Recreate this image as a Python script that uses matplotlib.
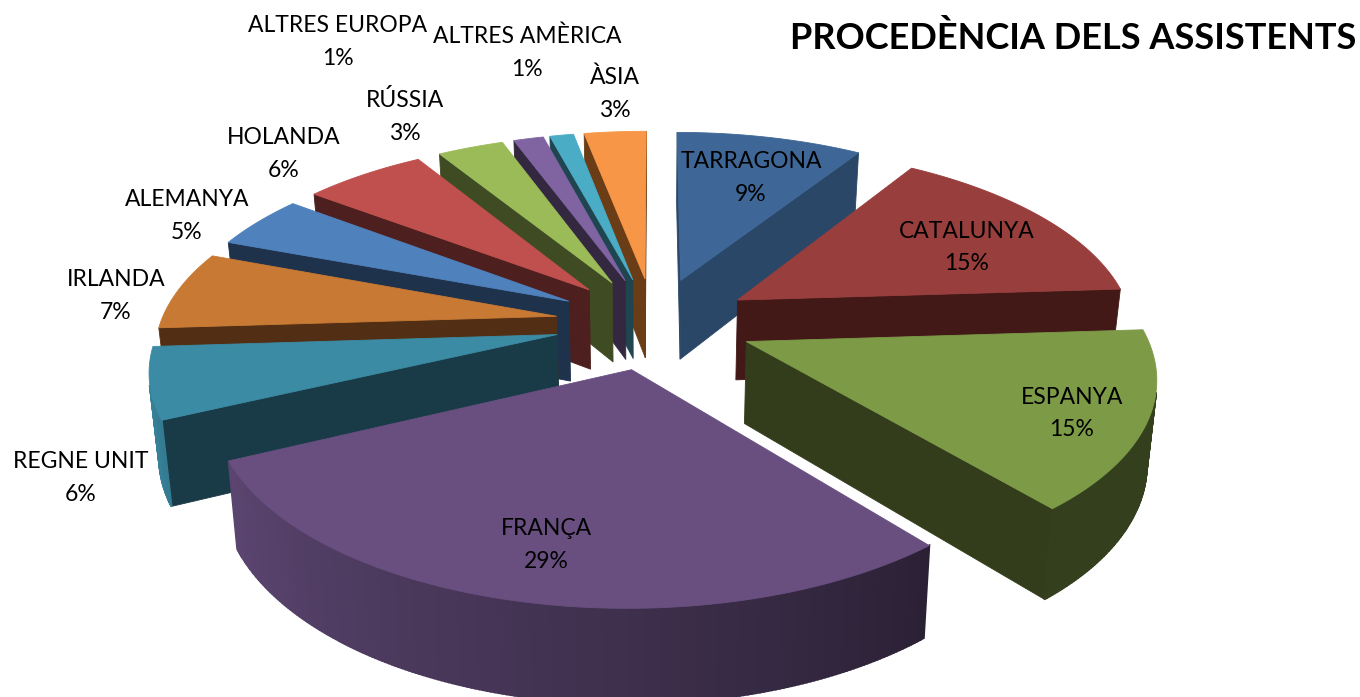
import numpy as np
import matplotlib
matplotlib.use('Agg')
import matplotlib.pyplot as plt

labels = ['TARRAGONA', 'CATALUNYA', 'ESPANYA', 'FRANÇA', 'REGNE UNIT', 'IRLANDA',
          'ALEMANYA', 'HOLANDA', 'RÚSSIA', 'ALTRES EUROPA', 'ALTRES AMÈRICA', 'ÀSIA']
values = [9, 15, 15, 29, 6, 6.7, 4.6, 5.9, 3.2, 1.45, 1.15, 3.0]
top_colors = ['#3E6797', '#983E3C', '#7D9A47', '#684F80', '#3B8BA4', '#C87934',
              '#4F81BD', '#C0504D', '#9BBB59', '#8064A2', '#4BACC6', '#F79646']
wall_colors = ['#2A4768', '#431918', '#333D1B', '#2A2035', '#193B47', '#522F14',
               '#1E324C', '#4D1F1E', '#3F4B23', '#342840', '#1E4550', '#6B3D17']
label_x = [751, 967, 1072, 546, 81, 116, 187, 284, 405, 338, 527, 615]
label_y = [176.5, 246, 412, 543.5, 476.5, 294.5, 214.5, 152.5, 115.5, 40.5, 51.5, 92.5]

title = 'PROCEDÈNCIA DELS ASSISTENTS'

# view of the pie, in pixels
cx, cy = 654, 323
rx, ry = 396, 184
persp = 0.159
explode = 0.25
depth = 81
shrink = 0.98


def project(u, v):
    d = 1 + persp * v
    return cx + rx * u / d, cy - ry * v / d, d


def area(xs, ys):
    s = 0
    for i in range(len(xs)):
        j = (i + 1) % len(xs)
        s += xs[i] * ys[j] - xs[j] * ys[i]
    return s


def side(p, q, color, lw=0.6):
    # p, q are disc points of the top edge
    x1, y1, d1 = project(*p)
    x2, y2, d2 = project(*q)
    xs = [x1, x2, cx + (x2 - cx) * shrink, cx + (x1 - cx) * shrink]
    ys = [y1, y2, y2 + depth / d2**0.75, y1 + depth / d1**0.75]
    if area(xs, ys) < 0:
        ax.fill(xs, ys, color=color, lw=lw, zorder=zo)


def darken(color, f):
    rgb = np.array(matplotlib.colors.to_rgb(color))
    return tuple(rgb * f)


fig = plt.figure(figsize=(13.6, 6.97), dpi=100)
ax = fig.add_axes([0, 0, 1, 1])
ax.set_xlim(0, 1360)
ax.set_ylim(697, 0)
ax.axis('off')

fracs = np.array(values) / sum(values)
edges = np.concatenate([[0], np.cumsum(fracs)]) * 360
mids = (edges[:-1] + edges[1:]) / 2
order = np.argsort(-np.cos(np.radians(mids)))

for zo, i in enumerate(order):
    t0, t1, tm = edges[i], edges[i + 1], np.radians(mids[i])
    ou, ov = explode * np.sin(tm), explode * np.cos(tm)
    th = np.radians(np.linspace(t0, t1, max(int(t1 - t0) * 2, 4) + 1))
    us = ou + np.sin(th)
    vs = ov + np.cos(th)
    apex = (ou, ov)

    side(apex, (us[0], vs[0]), wall_colors[i])
    side((us[-1], vs[-1]), apex, wall_colors[i])
    for k in range(len(th) - 1):
        shade = np.interp(np.degrees((th[k] + th[k + 1]) / 2),
                          [90, 140, 180, 245, 270], [0.41, 0.41, 0.6, 0.88, 1.0])
        side((us[k], vs[k]), (us[k + 1], vs[k + 1]), darken(top_colors[i], shade), lw=1.5)

    px, py, _ = project(np.append(us, ou), np.append(vs, ov))
    ax.fill(px, py, color=top_colors[i], lw=0.6, zorder=zo + 0.5)

for i in range(len(labels)):
    ax.text(label_x[i], label_y[i] - 8.5, labels[i], ha='center', va='baseline',
            fontsize=16.5, family='Lato', color='black', zorder=50)
    ax.text(label_x[i], label_y[i] + 24.5, '%.0f%%' % values[i], ha='center', va='baseline',
            fontsize=16.5, family='Lato', color='black', zorder=50)

ax.text(1356, 49, title, ha='right', va='baseline', fontsize=26, family='Lato',
        fontweight='bold', color='black', zorder=50)

fig.savefig('out.png', dpi=100)
